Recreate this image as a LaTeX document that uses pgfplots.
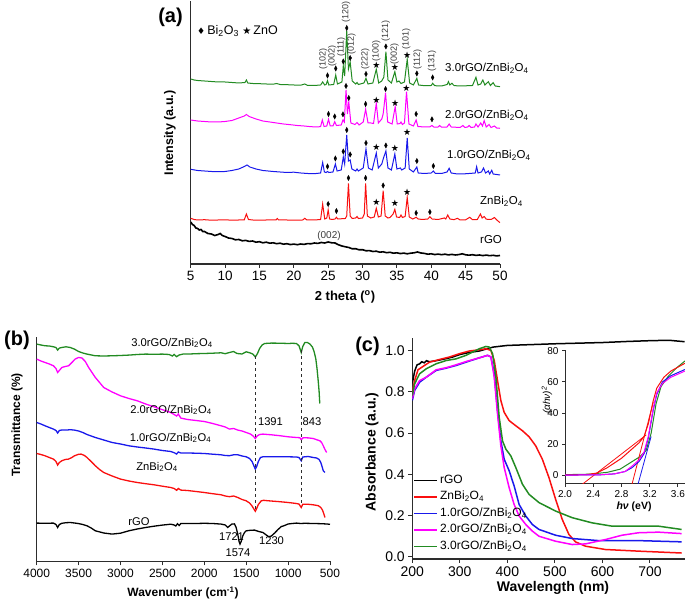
\documentclass[border=0pt]{standalone}
\usepackage{fontspec}
\setmainfont{Liberation Sans}
\newfontfamily\dejavu{DejaVu Sans}
\usepackage{pgfplots}
\pgfplotsset{compat=1.18}
\usetikzlibrary{plotmarks}
\definecolor{cgreen}{RGB}{34,139,34}
\definecolor{cmag}{RGB}{255,0,255}
\definecolor{cblue}{RGB}{25,25,235}
\definecolor{cred}{RGB}{250,15,15}
\definecolor{axgray}{RGB}{45,45,45}
\definecolor{lblgray}{RGB}{60,60,60}
\newcommand\fs[1]{\fontsize{#1}{#1}\selectfont}
\newcommand\zbo{ZnBi\textsubscript{2}O\textsubscript{4}}

\pgfplotsset{
  panel/.style={
    scale only axis, anchor=south west,
    axis lines*=left,
    axis line style={axgray, line width=1.3pt},
    every tick/.style={axgray, line width=1pt},
    tick align=outside, major tick length=4pt,
    /pgf/number format/assume math mode=true,
    /pgf/number format/set thousands separator={},
  },
  dia/.style={only marks, mark=diamond*, mark size=2.6pt,
    mark options={fill=black, draw=black, xscale=0.7}},
  sta/.style={only marks, mark=text, text mark={\dejavu\fs{9}★}},
}

\begin{document}
\begin{tikzpicture}[lab/.style={inner sep=0pt}]
\useasboundingbox (0,0) rectangle (685pt,601pt);

% ---------------- (a) XRD ----------------
\begin{axis}[panel, at={(190.7pt,337pt)}, width=309.3pt, height=263pt,
  xmin=5, xmax=50, ymin=0, ymax=263, xtick={5,10,...,50}, ytick=\empty,
  tick label style={font=\fs{13.5}}]
% rGO
\addplot[black, line width=1.6pt] coordinates {(5,42)(5.25,39.5)(5.5,38.5)(5.75,36)(6,35.5)(6.25,34)(6.5,34.5)(6.75,32.5)(7,32.5)(7.5,30.5)(8,30)(8.5,28.5)(9,29.5)(9.3,30.5)(9.6,28.5)(10,27.5)(10.5,26)(11,25.5)(11.5,24.2)(12,24.5)(12.5,23.2)(13,23.6)(13.5,22.6)(14,23)(14.5,21.8)(15,22.3)(15.5,21.2)(16,21.8)(16.5,20.8)(17,21.2)(17.5,20.3)(18,20.8)(18.5,19.8)(19,20.3)(19.5,19.4)(20,19.9)(20.5,19.3)(21,20)(21.5,19.6)(22,20.4)(22.5,20.2)(23,21)(23.5,20.6)(24,21.5)(24.5,21)(25,22)(25.5,21.2)(26,21)(26.5,19.2)(27,18)(27.5,17.2)(28,16.5)(28.5,15.2)(29,15.3)(29.5,14.2)(30,14.3)(30.5,13.2)(31,13.4)(31.5,12.5)(32,12.8)(32.5,11.8)(33,12.2)(33.5,11.3)(34,11.7)(34.5,10.8)(35,11.2)(35.5,10.4)(36,10.9)(36.5,10.2)(37,10.8)(37.5,11.2)(38,12)(38.5,11)(39,10.6)(39.5,9.8)(40,10.2)(40.5,9.4)(41,9.9)(41.5,9.3)(42,9.8)(42.5,9.1)(43,9.6)(43.5,9)(44,9.4)(44.5,10.2)(45,9.2)(45.5,8.8)(46,9.3)(46.5,8.6)(47,9)(47.5,8.4)(48,8.9)(48.5,8.3)(49,8.7)(49.5,8.1)(50,8.5)};
% ZnBi2O4
\addplot[cred, line width=1pt] coordinates {(5,45.7)(5.5,44.5)(6,44)(7,44.3)(8,43.8)(9,44)(10,44.2)(11,43.8)(12,44)(12.8,44.2)(13.1,50)(13.4,44.5)(14,44)(15,43.8)(16,44)(17,44.2)(17.4,44)(17.6,45.5)(17.8,44)(19,44)(20,43.8)(21.3,44)(21.6,45.7)(21.9,44)(23,44)(23.9,44.5)(24.2,60)(24.5,45)(24.8,46)(25.0,54)(25.2,45)(25.6,44.5)(26.0,45)(26.2,46.7)(26.4,45)(27.5,45.5)(27.7,48)(27.95,80.7)(28.2,48)(28.5,45.5)(29.0,46)(29.2,47.5)(29.4,45.5)(30.0,46)(30.25,50)(30.45,80.7)(30.7,48)(31.2,46)(31.7,47)(32.0,55.7)(32.3,47)(32.7,48)(33.0,73.3)(33.3,48)(33.7,46)(34.0,46.5)(34.45,50)(34.7,54.7)(34.95,47)(35.4,46.5)(35.6,49)(35.8,46.5)(36.2,47.5)(36.5,66.7)(36.8,47)(37.3,45)(37.8,46.7)(38.1,45)(38.7,44.5)(39.5,45)(39.8,47.3)(40.1,45)(41,44.5)(41.9,46)(42.1,45)(42.4,49)(42.7,45)(43.3,44.3)(43.8,45.7)(44.2,44)(45,44.2)(45.6,46.7)(46,44.3)(46.7,44.5)(47.15,50)(47.4,46)(47.7,47.5)(48,44.8)(48.7,44.5)(49.2,46.5)(49.5,44.2)(50,41.3)};
% 1.0rGO
\addplot[cblue, line width=1pt] coordinates {(5,94.7)(6,93.5)(7,93)(8,92.5)(9,92.3)(10,92.5)(11,93.5)(12,95)(12.8,97.5)(13.2,99)(13.6,97)(14.5,95)(15.5,93.5)(17,92.5)(18,92)(19,91.5)(20,91.8)(21,91)(22,90.5)(23,90.3)(23.9,91)(24.2,101.5)(24.45,92)(24.7,91.5)(24.9,92.5)(25.1,91.5)(25.7,92)(26.05,100)(26.3,93)(26.9,94)(27.2,107)(27.4,100)(27.7,129)(27.95,103)(28.2,104)(28.45,95)(29,93)(29.2,95)(29.4,93)(30.1,96)(30.5,115)(30.85,96)(31.4,94)(32.0,111)(32.3,96)(32.8,100)(33.05,106)(33.4,113)(33.7,96)(34.2,94)(34.7,110)(35.0,95)(35.5,96)(35.7,94)(36.2,96)(36.5,126)(36.8,95)(37.4,92)(37.9,97)(38.1,91)(39,90.5)(40.0,91)(40.3,93)(40.6,90.5)(41.5,90.5)(42.3,92)(42.6,95.7)(42.9,91)(43.8,90)(44.5,90)(45.5,90.5)(46.4,91)(46.6,97.3)(46.8,91)(47.3,92)(47.6,96)(47.9,91)(48.3,93)(48.5,90)(48.8,93.7)(49.0,90)(49.5,89.5)(50,89)};
% 2.0rGO
\addplot[cmag, line width=1pt] coordinates {(5,144)(6,143)(7,142.5)(8,142)(9,142)(10,142.5)(11,143.5)(12,146)(12.8,148)(13.1,149.5)(13.5,147.5)(14.5,145)(15.5,143)(16.5,142)(17.5,141)(18.5,140)(19.5,139.3)(20.5,138.5)(21.5,138)(22.5,137.3)(23.5,137)(23.9,137.5)(24.15,144)(24.4,137.5)(24.8,138)(25.05,144.7)(25.3,138)(25.7,138)(25.95,142.3)(26.2,138.5)(26.9,139)(27.15,144)(27.35,142)(27.6,174)(27.8,150)(28.0,162.3)(28.3,141)(28.9,139.5)(29.2,141.5)(29.5,139)(30.1,142)(30.45,154.7)(30.8,141)(31.2,141)(31.6,140.5)(32.0,160.7)(32.3,141)(32.8,145)(33.0,150)(33.35,171.3)(33.65,142)(34.3,140)(34.75,157.3)(35.05,140)(35.45,140.5)(35.6,142)(35.8,139.5)(36.1,141)(36.4,172.3)(36.75,140)(37.4,138)(37.8,144)(38.05,137.5)(39,137)(39.8,137.2)(40.1,138.5)(40.4,136.8)(41.0,137)(41.2,138.5)(41.5,136.8)(42.3,137)(42.6,140)(42.9,137)(44.2,136.5)(44.6,138.5)(44.9,136.5)(45.3,137)(45.5,138.5)(45.8,136.5)(46.3,137)(46.5,140)(46.8,137)(47.2,141)(47.45,138)(47.7,143.3)(48,137)(48.4,139.5)(48.7,136.5)(49.2,138)(49.5,136)(50,135.7)};
% 3.0rGO
\addplot[cgreen, line width=1pt] coordinates {(5,185)(5.5,184)(6,183.5)(7,183)(8,182.5)(9,182)(10,182)(11,181.5)(12,181)(12.9,181.5)(13.1,184)(13.3,181)(14,180.5)(15,180.3)(16,180)(17,179.8)(17.5,180.5)(18,179.5)(19,179.3)(20,179)(21,178.8)(21.6,180)(22,178.6)(23,178.5)(23.9,179)(24.2,182)(24.5,179)(24.7,179.5)(24.9,183.3)(25.1,179)(25.8,179.5)(26.1,189)(26.35,180)(27.0,182)(27.2,198)(27.4,188)(27.7,233)(27.95,195)(28.2,202)(28.5,183)(29.0,180)(29.2,181.5)(29.4,179.5)(30.2,181)(30.5,185.7)(30.8,180)(31.5,181)(32.0,194.7)(32.35,181)(32.8,183)(33.1,187)(33.4,212.3)(33.7,184)(34.2,181)(34.7,192.3)(35.0,182)(35.3,183)(35.6,180.5)(36.1,182)(36.5,204.7)(36.85,181)(37.4,179)(37.9,185.7)(38.15,179)(39,178.3)(40.0,178.5)(40.2,180.7)(40.5,178.3)(41.5,178)(42.3,179.5)(42.5,182.3)(42.7,179)(43.0,180.7)(43.3,178.5)(44,178)(45,178.2)(46,178.5)(46.5,186.7)(46.8,179)(47.2,180)(47.5,184)(47.8,179)(48.3,182.3)(48.6,178.5)(49,181.3)(49.3,178)(50,177.3)};
% phase markers
\addplot[dia] coordinates {(25.0,60)(26.2,53)(27.95,86)(30.45,86)(33.0,78.5)(37.8,51)(39.8,52)};
\addplot[sta] coordinates {(32.0,61.5)(34.7,61)(36.5,72)};
\addplot[dia] coordinates {(24.9,97.5)(26.05,105.5)(27.2,112.5)(27.7,134)(28.2,109.5)(30.5,121)(33.4,118.5)(37.9,103)(40.3,98)};
\addplot[sta] coordinates {(32.0,117)(34.7,116)(36.5,132)};
\addplot[dia] coordinates {(25.05,150)(25.95,147.5)(27.15,149.7)(27.6,178)(28.0,166)(30.45,160)(33.35,175)(37.8,150)(40.1,144.7)};
\addplot[sta] coordinates {(32.0,164)(34.75,161)(36.4,176)};
\addplot[dia] coordinates {(24.9,188.5)(26.1,195.5)(27.2,202.5)(27.7,236)(28.2,206)(30.5,190)(33.4,217.5)(37.9,190.5)(40.2,186.5)};
\addplot[sta] coordinates {(32.0,199)(34.7,196.5)(36.5,209)};
% hkl labels
\begin{scope}[every node/.style={rotate=90, anchor=west, inner sep=0pt, font=\fs{9}, text=lblgray}]
\node at (axis cs:24.3,194) {(102)};
\node at (axis cs:25.6,197) {(002)};
\node at (axis cs:26.9,207) {(111)};
\node at (axis cs:27.6,241) {(120)};
\node at (axis cs:28.4,209) {(012)};
\node at (axis cs:30.4,194) {(222)};
\node at (axis cs:32.0,202) {(100)};
\node at (axis cs:33.4,222) {(121)};
\node at (axis cs:34.65,199) {(002)};
\node at (axis cs:36.35,214) {(101)};
\node at (axis cs:38.0,194) {(112)};
\node at (axis cs:40.1,192) {(131)};
\end{scope}
\end{axis}

\node[lab, font=\fs{20}\bfseries] at (170.5pt,584pt) {(a)};
\node[lab, rotate=90, font=\fs{12.5}\bfseries] at (170pt,468pt) {Intensity (a.u.)};
\node[lab, font=\fs{13}\bfseries] at (345pt,304.3pt) {2 theta (\textsuperscript{o})};
\node[lab, anchor=west, font=\fs{12.5}] at (197pt,570.3pt)
  {\raisebox{-0.5pt}{\dejavu\fs{9}♦}\,Bi\textsubscript{2}O\textsubscript{3} {\dejavu\fs{10}★}\,ZnO};
\begin{scope}[every node/.style={lab, anchor=west, font=\fs{11.5}}]
\node at (445pt,532.7pt) {3.0rGO/\zbo};
\node at (445pt,486pt) {2.0rGO/\zbo};
\node at (447pt,446pt) {1.0rGO/\zbo};
\node at (480pt,399.3pt) {\zbo};
\node at (480pt,361pt) {rGO};
\end{scope}
\node[lab, font=\fs{10}, text=lblgray] at (329pt,365.3pt) {(002)};

% ---------------- (b) FTIR ----------------
\begin{axis}[panel, at={(36.7pt,39.5pt)}, width=293.3pt, height=224.5pt,
  xmin=500, xmax=4000, x dir=reverse, ymin=0, ymax=224.5,
  xtick={500,1000,...,4000}, ytick=\empty,
  tick label style={font=\fs{12}}]
\addplot[black, line width=1.3pt] coordinates {(4000,38.4)(3900,38.2)(3800,38.4)(3770,37)(3750,34)(3730,37)(3700,38.2)(3650,38.8)(3600,39)(3550,38.5)(3500,37.9)(3450,37)(3400,35.7)(3350,33.5)(3300,30.7)(3200,28.5)(3100,27.4)(3000,28.3)(2900,30.7)(2800,32.5)(2700,34)(2600,35.3)(2500,36.4)(2400,37.3)(2360,36.5)(2340,35.5)(2320,37.8)(2300,36)(2280,38)(2200,38)(2100,38)(2000,38.2)(1900,38)(1800,37.4)(1750,36.5)(1721,34)(1700,35.5)(1670,37.5)(1640,37.6)(1620,34)(1600,27)(1585,20)(1574,17.4)(1560,20)(1540,25.7)(1520,29)(1500,30.7)(1450,31.2)(1400,31.4)(1350,30)(1300,29)(1260,26.5)(1230,24.7)(1200,25.5)(1160,28.5)(1120,32)(1080,35)(1050,35.7)(1000,37.5)(950,38)(900,38.4)(850,38)(800,38.2)(700,38)(600,37.8)(540,37.5)(500,37.2)};
\addplot[cred, line width=1.3pt] coordinates {(4000,108)(3950,107)(3900,105.7)(3850,104)(3800,102.4)(3770,100)(3750,96.4)(3730,99)(3700,100.7)(3660,102)(3620,102.4)(3580,104)(3550,105.7)(3500,107.2)(3470,107.4)(3430,106)(3400,104)(3350,100)(3300,95.7)(3250,92)(3200,89)(3100,85.5)(3000,82.4)(2900,80.5)(2800,79)(2700,77.8)(2600,76.7)(2500,75.3)(2400,74)(2360,73)(2330,71.2)(2310,73)(2280,71.4)(2200,71)(2100,70)(2000,69)(1900,67.8)(1800,66.7)(1750,65.5)(1700,64.8)(1650,65.5)(1600,64)(1550,62)(1500,60.7)(1460,58.5)(1430,55.5)(1405,52)(1391,50.2)(1375,53)(1355,57)(1320,60.7)(1290,61.2)(1250,60.8)(1100,59.8)(1000,59)(900,58)(870,57.4)(843,54)(825,57.2)(760,57.2)(700,56.7)(640,55.8)(610,54)(590,51.5)(575,48)(560,44)};
\addplot[cblue, line width=1.3pt] coordinates {(4000,139)(3950,137.5)(3900,135.7)(3850,134)(3800,132.4)(3770,131)(3750,128.5)(3730,131)(3700,131.5)(3650,131.4)(3600,131.8)(3550,131.4)(3500,130.5)(3450,129)(3400,127)(3300,124)(3200,121.5)(3100,119)(3000,117.5)(2900,115.7)(2800,114.5)(2700,113.5)(2600,112.4)(2500,111)(2400,110)(2360,108.8)(2330,107.5)(2310,109.5)(2280,108.5)(2200,108.5)(2100,108.3)(2000,108)(1900,107.3)(1800,106.7)(1750,106)(1700,105.8)(1650,106.7)(1600,106.7)(1550,105.5)(1500,104.7)(1460,103)(1430,100)(1405,95)(1391,92.4)(1375,95)(1355,100)(1330,104)(1300,104.7)(1200,104.7)(1000,104.7)(900,104.5)(870,104)(843,100.7)(825,104.5)(760,105)(700,104)(660,103.5)(630,102)(610,99)(595,95)(580,90.7)(560,89)};
\addplot[cmag, line width=1.3pt] coordinates {(4000,202.4)(3950,200.5)(3900,199)(3850,197.5)(3800,195.7)(3770,193)(3750,189)(3730,191)(3700,194)(3660,195)(3620,195.7)(3580,199)(3540,202.5)(3500,204)(3460,203.5)(3420,200)(3380,194)(3340,189)(3300,184)(3250,179)(3200,174)(3100,169.5)(3000,165.7)(2900,163)(2800,160.7)(2700,157.5)(2600,154.7)(2500,151.8)(2400,149)(2360,147)(2330,145.5)(2310,147.5)(2280,143.4)(2200,142)(2100,141)(2000,140)(1900,138)(1800,135.7)(1750,134.5)(1700,132.4)(1650,133)(1600,131.4)(1550,130.5)(1500,129)(1450,127.5)(1420,125.7)(1391,123)(1370,125.5)(1340,127)(1300,127.4)(1200,126.7)(1100,125.8)(1000,124.7)(900,124)(860,123.8)(843,121.8)(820,123.8)(760,123.6)(700,123)(650,121.5)(620,120.7)(600,119)(580,115.7)(560,112)(540,109)};
\addplot[cgreen, line width=1.3pt] coordinates {(4000,217.4)(3950,216.5)(3900,215.7)(3850,215.5)(3800,214.7)(3770,214)(3750,211.4)(3730,213.4)(3700,214)(3650,214.7)(3600,214)(3550,212.4)(3500,210)(3450,208.5)(3400,207.4)(3300,205.7)(3200,205.5)(3100,205.7)(3000,206)(2900,206.4)(2800,207)(2700,207.4)(2600,207.2)(2500,207.4)(2420,207)(2380,205.5)(2360,207)(2330,204.8)(2300,206.5)(2250,207.5)(2200,207.4)(2100,207.8)(2000,208)(1900,208.3)(1800,208.7)(1750,207.8)(1700,209)(1650,210)(1610,208)(1550,207.5)(1500,209.7)(1450,208.5)(1420,207.4)(1391,204.5)(1365,208)(1340,213)(1310,216.5)(1280,218)(1200,218.4)(1100,218.3)(1000,218)(950,218.2)(900,218)(870,215.7)(843,209)(825,215)(800,219)(770,219)(740,217.5)(710,214.5)(690,210)(670,203)(655,193)(640,180)(630,170)(622,158)};
\draw[dashed, line width=1pt, axgray] (axis cs:1391,205) -- (axis cs:1391,52);
\draw[dashed, line width=1pt, axgray] (axis cs:843,211) -- (axis cs:843,55);
\end{axis}

\node[lab, font=\fs{20}\bfseries] at (17pt,261pt) {(b)};
\node[lab, rotate=90, font=\fs{12}\bfseries] at (17pt,176pt) {Transmittance (\%)};
\node[lab, font=\fs{12}\bfseries] at (183pt,8pt) {Wavenumber (cm\textsuperscript{-1})};
\begin{scope}[every node/.style={lab, font=\fs{11.2}}]
\node at (172pt,258pt) {3.0rGO/\zbo};
\node at (171pt,191pt) {2.0rGO/\zbo};
\node at (170.5pt,163pt) {1.0rGO/\zbo};
\node at (157pt,134pt) {\zbo};
\node at (139pt,79.3pt) {rGO};
\node at (270.5pt,179.3pt) {1391};
\node at (312pt,179.3pt) {843};
\node at (231.5pt,64pt) {1721};
\node at (238pt,48.5pt) {1574};
\node at (271.5pt,60.3pt) {1230};
\end{scope}

% ---------------- (c) UV-vis ----------------
\begin{axis}[panel, at={(412.3pt,42pt)}, width=272.7pt, height=221pt,
  xmin=200, xmax=773.7, ymin=-0.01, ymax=1.06,
  xtick={200,300,...,700}, ytick={0,0.2,0.4,0.6,0.8,1.0},
  yticklabel style={/pgf/number format/.cd, fixed, fixed zerofill, precision=1},
  tick label style={font=\fs{14}},
  legend style={at={(0.003,0.018)}, anchor=south west, draw=none, fill=none,
    font=\fs{12}, inner sep=0pt,
    nodes={text height=9pt, text depth=3.5pt, inner sep=2pt}},
  legend cell align=left,
  legend image code/.code={\draw[#1, line width=1.8pt] (0pt,0pt) -- (23pt,0pt);}]
\addplot[black, line width=1.5pt] coordinates {(200,0.84)(205,0.90)(210,0.93)(215.4,0.935)(220,0.945)(225,0.94)(230,0.95)(236,0.945)(250,0.95)(271,0.96)(285,0.968)(300,0.98)(320,0.99)(341,0.997)(370,1.016)(400,1.024)(450,1.028)(500,1.032)(550,1.035)(600,1.038)(650,1.043)(700,1.047)(740,1.049)(773,1.042)};
\addlegendentry{rGO}
\addplot[cred, line width=1.5pt] coordinates {(200,0.797)(204.9,0.854)(212,0.906)(222.3,0.922)(236.3,0.943)(257.2,0.956)(278.2,0.968)(299.1,0.984)(320,0.997)(341,1.003)(354.9,1.008)(365.4,1.0)(372.4,0.951)(379.3,0.854)(386.3,0.757)(393.3,0.700)(403.8,0.660)(417.7,0.635)(431.7,0.611)(445.6,0.582)(459.6,0.538)(473.6,0.473)(487.5,0.384)(501.5,0.279)(515.4,0.182)(529.4,0.109)(543.3,0.073)(564.3,0.052)(606.1,0.036)(675.9,0.028)(766.6,0.019)};
\addlegendentry{\zbo}
\addplot[cblue, line width=1.5pt] coordinates {(200,0.757)(204.9,0.806)(215.4,0.846)(229.3,0.870)(250.2,0.903)(271.2,0.914)(292.1,0.927)(313,0.943)(341,0.964)(358.4,0.976)(365.4,0.968)(372.4,0.887)(379.3,0.708)(386.3,0.562)(393.3,0.473)(403.8,0.417)(414.2,0.344)(424.7,0.254)(438.7,0.198)(452.6,0.157)(466.6,0.133)(501.5,0.105)(536.4,0.089)(592.2,0.079)(675.9,0.079)(766.6,0.073)};
\addlegendentry{1.0rGO/\zbo}
\addplot[cmag, line width=1.5pt] coordinates {(200,0.765)(204.9,0.814)(215.4,0.854)(229.3,0.870)(250.2,0.906)(271.2,0.916)(292.1,0.930)(313,0.946)(341,0.964)(358.4,0.976)(365.4,0.968)(372.4,0.870)(379.3,0.692)(386.3,0.538)(393.3,0.433)(403.8,0.335)(414.2,0.254)(424.7,0.198)(438.7,0.157)(452.6,0.125)(466.6,0.100)(501.5,0.076)(536.4,0.060)(564.3,0.063)(606.1,0.084)(641,0.105)(675.9,0.117)(717.8,0.120)(766.6,0.113)};
\addlegendentry{2.0rGO/\zbo}
\addplot[cgreen, line width=1.5pt] coordinates {(200,0.781)(204.9,0.838)(215.4,0.887)(229.3,0.911)(250.2,0.935)(271.2,0.951)(292.1,0.959)(313,0.976)(341,1.008)(354.9,1.019)(361.9,1.016)(368.9,0.984)(375.9,0.870)(382.8,0.676)(389.8,0.562)(396.8,0.522)(407.3,0.489)(417.7,0.433)(431.7,0.352)(445.6,0.303)(466.6,0.263)(501.5,0.222)(536.4,0.190)(578.2,0.165)(620.1,0.149)(675.9,0.149)(717.8,0.149)(766.6,0.133)};
\addlegendentry{3.0rGO/\zbo}
\end{axis}

\node[lab, font=\fs{20}\bfseries] at (367.5pt,254.5pt) {(c)};
\node[lab, rotate=90, font=\fs{14}\bfseries] at (372pt,149pt) {Absorbance (a.u.)};
\node[lab, font=\fs{14}\bfseries] at (553pt,13pt) {Wavelength (nm)};

% inset
\begin{axis}[panel, at={(565pt,117pt)}, width=120pt, height=134pt,
  xmin=2, xmax=3.7, ymin=-5.5, ymax=80.5,
  xtick={2.0,2.4,2.8,3.2,3.6}, ytick={0,20,40,60,80},
  xticklabel style={/pgf/number format/.cd, fixed, fixed zerofill, precision=1},
  axis line style={axgray, line width=1pt}, major tick length=3pt,
  tick label style={font=\fs{10}}]
\addplot[cgreen, line width=1pt] coordinates {(2.0,0.5)(2.35,0.8)(2.6,2)(2.78,4)(2.92,8)(3.06,12)(3.15,16)(3.22,27)(3.29,46)(3.36,57)(3.46,63.5)(3.58,69)(3.7,73.5)};
\addplot[cred, line width=1pt] coordinates {(2.0,0.3)(2.3,0.5)(2.45,1.5)(2.6,5)(2.8,11)(2.95,17)(3.05,21)(3.12,25)(3.18,33)(3.25,48)(3.3,56)(3.4,63)(3.5,67)(3.7,72)};
\addplot[cred, line width=0.8pt] coordinates {(2.25,-5.5)(3.15,26)};
\addplot[cred, line width=0.8pt] coordinates {(2.95,-5.5)(3.25,47)};
\addplot[cblue, line width=1pt] coordinates {(2.0,0.2)(2.5,0.4)(2.7,1)(2.85,2.5)(2.95,5)(3.05,9)(3.12,14)(3.18,24)(3.25,42)(3.3,52)(3.38,60)(3.5,64)(3.7,68)};
\addplot[cblue, line width=0.8pt] coordinates {(3.035,-5.5)(3.22,25)};
\addplot[cmag, line width=1pt] coordinates {(2.0,0.2)(2.5,0.4)(2.7,1)(2.85,2.5)(2.95,6)(3.05,10)(3.12,15)(3.18,25)(3.25,43)(3.3,53)(3.38,59)(3.5,63)(3.7,67)};
\end{axis}
\node[lab, rotate=90, font=\fs{10}\itshape] at (547pt,201pt) {(αhν)\textsuperscript{2}};
\node[lab, font=\fs{10.5}\bfseries] at (634pt,94.3pt) {\textit{hν} (eV)};
\end{tikzpicture}
\end{document}
